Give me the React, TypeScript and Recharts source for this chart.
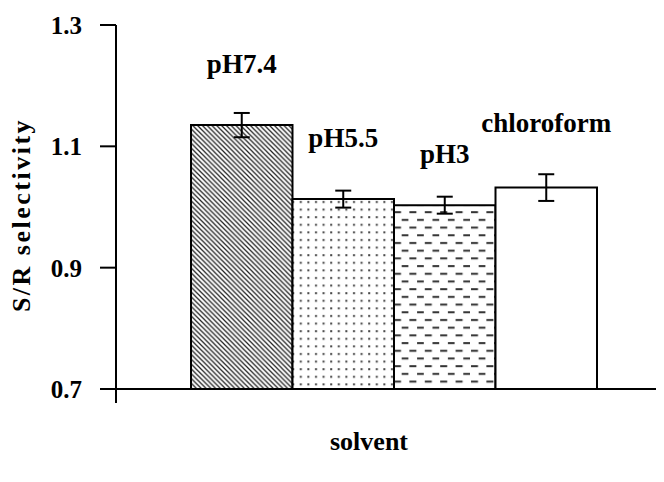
import React from 'react';
import { BarChart, Bar, XAxis, YAxis, ErrorBar, LabelList, ReferenceLine } from 'recharts';

const categories = ['solvent'];
const seriesNames = ['pH7.4', 'pH5.5', 'pH3', 'chloroform'];
const seriesValues = [1.135, 1.013, 1.003, 1.032];
const seriesErrors = [0.02, 0.014, 0.014, 0.022];
const yTicks = [0.7, 0.9, 1.1, 1.3];

const data = categories.map((c) => {
  const row: Record<string, any> = { name: c };
  seriesNames.forEach((_, i) => {
    row['v' + i] = seriesValues[i];
    row['e' + i] = seriesErrors[i];
  });
  return row;
});

const FONT = '"Liberation Serif", "Times New Roman", serif';
const fills = ['url(#hatch)', 'url(#dots)', 'url(#dashes)', '#ffffff'];
const labelDy = [-52, -52, -42, -56];
const Y_AXIS_W = 108;
const TICK_LEN = 16;
const TICK_GAP = 18;
const DEFAULT_TICK = 6;
const PLOT_W = 556;

const YTick = (props: any) => {
  const { x, y, payload } = props;
  const axisX = Number(x) + TICK_LEN + TICK_GAP;
  const isBase = payload.value === yTicks[0];
  return (
    <g>
      <line
        x1={axisX - TICK_LEN}
        y1={y}
        x2={isBase ? axisX + PLOT_W : axisX}
        y2={y}
        stroke="#000"
        strokeWidth={2}
      />
      <text
        x={x}
        y={y}
        dy="0.36em"
        textAnchor="end"
        fontFamily={FONT}
        fontWeight="bold"
        fontSize={25}
        fill="#000"
      >
        {Number(payload.value).toFixed(1)}
      </text>
    </g>
  );
};

export default function App() {
  return (
    <div style={{ width: 656, height: 460, overflow: 'hidden' }}>
      <BarChart
        width={664}
        height={460}
        data={data}
        margin={{ top: 17, right: 0, bottom: 0, left: 0 }}
        barGap={0}
      >
        <defs>
          <pattern id="hatch" patternUnits="userSpaceOnUse" width={4.8} height={4.8}>
            <rect width={4.8} height={4.8} fill="#fff" />
            <path d="M-1,-1 L5.8,5.8 M-1,3.8 L1,5.8 M3.8,-1 L5.8,1" stroke="#222" strokeWidth={1.25} />
          </pattern>
          <pattern id="dots" patternUnits="userSpaceOnUse" width={7.6} height={7.6}>
            <rect width={7.6} height={7.6} fill="#fff" />
            <rect x={3} y={3} width={2} height={2} fill="#444" />
          </pattern>
          <pattern id="dashes" patternUnits="userSpaceOnUse" width={15.4} height={15.4}>
            <rect width={15.4} height={15.4} fill="#fff" />
            <rect x={1} y={3} width={7} height={2} fill="#333" />
            <rect x={8.7} y={10.7} width={7} height={2} fill="#333" />
          </pattern>
        </defs>
        <XAxis
          dataKey="name"
          height={79}
          tick={false}
          tickLine={false}
          axisLine={false}
          label={(props: any) => {
            const vb = props.viewBox || {};
            return (
              <text
                x={(vb.x ?? 108) + (vb.width ?? 556) / 2 - 25}
                y={442}
                textAnchor="middle"
                fontFamily={FONT}
                fontWeight="bold"
                fontSize={26}
                fill="#000"
              >
                {categories[0]}
              </text>
            );
          }}
        />
        <YAxis
          type="number"
          domain={[0.7, 1.3]}
          ticks={yTicks}
          width={Y_AXIS_W}
          tickLine={false}
          tickMargin={TICK_LEN + TICK_GAP - DEFAULT_TICK}
          interval={0}
          axisLine={{ stroke: '#000', strokeWidth: 2 }}
          tick={<YTick />}
          label={() => (
            <text
              x={22}
              y={207}
              transform="rotate(-90 22 207)"
              textAnchor="middle"
              fontFamily={FONT}
              fontWeight="bold"
              fontSize={26}
              letterSpacing={2.5}
              fill="#000"
            >
              S/R selectivity
            </text>
          )}
        />
        <ReferenceLine
          segment={[
            { x: 'solvent', y: 0.7 },
            { x: 'solvent', y: 0.677 },
          ]}
          position="start"
          ifOverflow="visible"
          stroke="#000"
          strokeWidth={2}
        />
        {seriesNames.map((s, i) => (
          <Bar
            key={s}
            dataKey={'v' + i}
            name={s}
            fill={fills[i]}
            stroke="#000"
            strokeWidth={2}
            barSize={101.5}
            isAnimationActive={false}
          >
            <ErrorBar dataKey={'e' + i} direction="y" width={8} stroke="#000" strokeWidth={2} />
            <LabelList
              dataKey={'v' + i}
              content={(p: any) => (
                <text
                  x={Number(p.x) + Number(p.width) / 2}
                  y={Number(p.y) + labelDy[i]}
                  textAnchor="middle"
                  fontFamily={FONT}
                  fontWeight="bold"
                  fontSize={27}
                  fill="#000"
                >
                  {s}
                </text>
              )}
            />
          </Bar>
        ))}
      </BarChart>
    </div>
  );
}
